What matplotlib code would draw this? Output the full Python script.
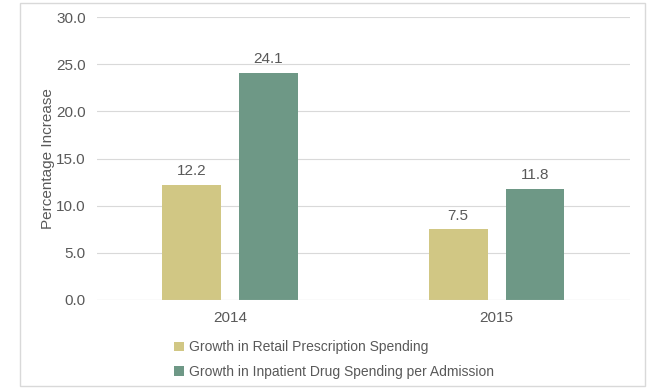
import matplotlib
matplotlib.use("Agg")
import matplotlib.pyplot as plt
import numpy as np
from matplotlib.patches import Rectangle

years = ["2014", "2015"]
retail = [12.2, 7.5]
inpatient = [24.1, 11.8]
series_names = ["Growth in Retail Prescription Spending",
                "Growth in Inpatient Drug Spending per Admission"]

plt.rcParams['font.family'] = ['Liberation Sans', 'DejaVu Sans']
txt = '#595959'
yellow = '#D1C784'
green = '#6E9886'

fig = plt.figure(figsize=(6.5, 3.89), dpi=100)
ax = fig.add_axes([0.149, 0.229, 0.82, 0.727])

x = np.arange(len(years))
w = 0.22
off = 0.144
b1 = ax.bar(x - off, retail, w, color=yellow, label=series_names[0], zorder=3)
b2 = ax.bar(x + off, inpatient, w, color=green, label=series_names[1], zorder=3)

for bars, vals in ((b1, retail), (b2, inpatient)):
    for b, v in zip(bars, vals):
        ax.text(b.get_x() + b.get_width() / 2, v + 0.7, f"{v:.1f}",
                ha='center', va='bottom', fontsize=11, color=txt)

ax.set_xlim(-0.5, 1.5)
ax.set_ylim(0, 30)
ax.set_yticks(np.arange(0, 31, 5))
ax.set_yticklabels([f"{v:.1f}" for v in np.arange(0, 31, 5)])
ax.set_xticks(x)
ax.set_xticklabels(years)
ax.tick_params(length=0, labelsize=11, colors=txt, pad=8)
ax.yaxis.grid(True, color='#D9D9D9', linewidth=0.8, zorder=0)
for s in ax.spines.values():
    s.set_visible(False)
ax.axhline(0, color='#D9D9D9', linewidth=0.8, zorder=4)
ax.set_ylabel("Percentage Increase", fontsize=11, color=txt, labelpad=1)

fig.legend(handles=[b1, b2], loc='upper left', bbox_to_anchor=(0.268, 0.125),
           frameon=False, fontsize=10, labelcolor=txt, handlelength=0.7,
           handleheight=0.7, handletextpad=0.4, labelspacing=0.75,
           borderpad=0, borderaxespad=0)

fig.patches.append(Rectangle((0.031, 0.008), 0.961, 0.985, transform=fig.transFigure,
                             fill=False, edgecolor='#D9D9D9', linewidth=1))

fig.savefig("out.png", dpi=100)
